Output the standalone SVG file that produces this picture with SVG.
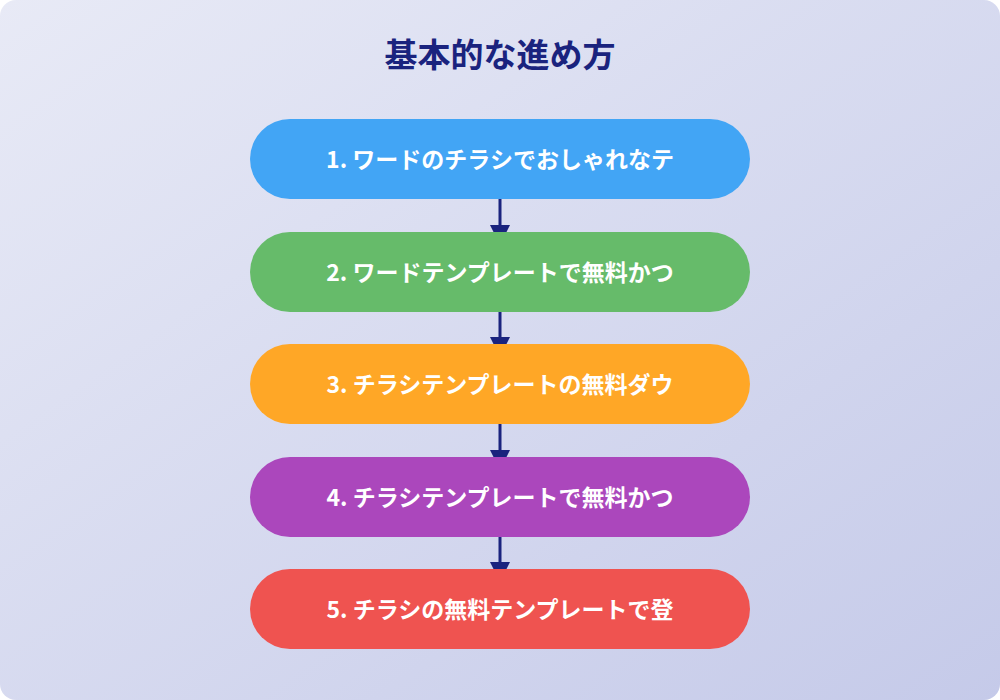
<svg xmlns="http://www.w3.org/2000/svg" width="1000" height="700" viewBox="0 0 1000 700">
  <defs>
    <linearGradient id="bg" x1="0" y1="0" x2="1" y2="1">
      <stop offset="0" stop-color="#e8eaf6"/>
      <stop offset="1" stop-color="#c5cae9"/>
    </linearGradient>
    <polygon id="head" points="-10,0 10,0 0,20" fill="#1a237e"/>
    <style>
      .label { font-family: "Noto Sans CJK JP", "Noto Sans", sans-serif; font-weight: 700; font-size: 23px; fill: #ffffff; text-anchor: middle; }
      .title { font-family: "Noto Sans CJK JP", "Noto Sans", sans-serif; font-weight: 700; font-size: 33px; fill: #1a237e; text-anchor: middle; }
      .conn { stroke: #1a237e; stroke-width: 3; fill: none; }
    </style>
  </defs>
  <rect x="0" y="0" width="1000" height="700" fill="#ffffff"/>
  <rect x="0" y="0" width="1000" height="700" rx="16" ry="16" fill="url(#bg)"/>
  <text class="title" x="500" y="67">基本的な進め方</text>
  <g id="connectors">
    <line class="conn" x1="500" y1="199" x2="500" y2="228"/>
    <use href="#head" x="500" y="225"/>
    <line class="conn" x1="500" y1="312" x2="500" y2="340"/>
    <use href="#head" x="500" y="337"/>
    <line class="conn" x1="500" y1="424" x2="500" y2="453"/>
    <use href="#head" x="500" y="450"/>
    <line class="conn" x1="500" y1="537" x2="500" y2="565"/>
    <use href="#head" x="500" y="562"/>
  </g>
  <g id="node1">
    <rect x="250" y="119" width="500" height="80" rx="40" ry="40" fill="#42a5f5"/>
    <text class="label" x="500" y="168">1. ワードのチラシでおしゃれなテ</text>
  </g>
  <g id="node2">
    <rect x="250" y="232" width="500" height="80" rx="40" ry="40" fill="#66bb6a"/>
    <text class="label" x="500" y="281">2. ワードテンプレートで無料かつ</text>
  </g>
  <g id="node3">
    <rect x="250" y="344" width="500" height="80" rx="40" ry="40" fill="#ffa726"/>
    <text class="label" x="500" y="393">3. チラシテンプレートの無料ダウ</text>
  </g>
  <g id="node4">
    <rect x="250" y="457" width="500" height="80" rx="40" ry="40" fill="#ab47bc"/>
    <text class="label" x="500" y="506">4. チラシテンプレートで無料かつ</text>
  </g>
  <g id="node5">
    <rect x="250" y="569" width="500" height="80" rx="40" ry="40" fill="#ef5350"/>
    <text class="label" x="500" y="618">5. チラシの無料テンプレートで登</text>
  </g>
</svg>
